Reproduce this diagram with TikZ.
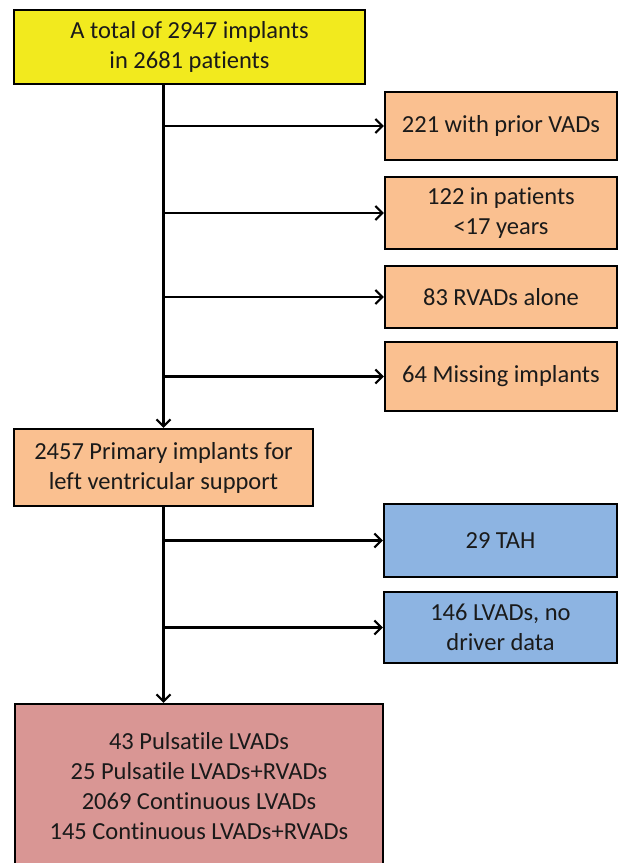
\documentclass[tikz,border=0pt]{standalone}
\usepackage{fontspec}
\setmainfont{Carlito}[Ligatures={NoCommon}]
\usetikzlibrary{arrows.meta}
\definecolor{cyellow}{HTML}{F2EA1E}
\definecolor{corange}{HTML}{FAC090}
\definecolor{cblue}{HTML}{8DB4E2}
\definecolor{cpink}{HTML}{D99694}
\definecolor{ctext}{HTML}{1A1A1A}
\tikzset{
  box/.style={draw=black, line width=2.2pt, inner sep=0pt, align=center,
    text=ctext, font=\fontsize{24.5}{30}\selectfont},
  ybox/.style={box, fill=cyellow},
  obox/.style={box, fill=corange},
  bbox/.style={box, fill=cblue},
  pbox/.style={box, fill=cpink},
  arr/.style={line width=2.2pt, -{Straight Barb[length=7pt,width=14pt,line width=2.2pt]}},
}
\begin{document}
\begin{tikzpicture}[x=1pt,y=-1pt]
\useasboundingbox (0,0) rectangle (618,863);
\node[ybox, minimum width=351pt, minimum height=74pt] (top) at (189.5,47) {A total of 2947 implants\\in 2681 patients};
\node[obox, minimum width=232pt, minimum height=68pt] (r1) at (501,126) {221 with prior VADs};
\node[obox, minimum width=232pt, minimum height=72pt] (r2) at (501,213) {122 in patients\\<17 years};
\node[obox, minimum width=232pt, minimum height=62pt] (r3) at (501,297) {83 RVADs alone};
\node[obox, minimum width=232pt, minimum height=69pt] (r4) at (501,376.5) {64 Missing implants};
\node[obox, minimum width=299pt, minimum height=77pt] (prim) at (163.5,467.5) {2457 Primary implants for\\left ventricular support};
\node[bbox, minimum width=233pt, minimum height=73pt] (b1) at (500.5,540.5) {29 TAH};
\node[bbox, minimum width=233pt, minimum height=71pt] (b2) at (500.5,627.5) {146 LVADs, no\\driver data};
\node[pbox, minimum width=368pt, minimum height=164pt] (bot) at (199,786) {43 Pulsatile LVADs\\25 Pulsatile LVADs+RVADs\\2069 Continuous LVADs\\145 Continuous LVADs+RVADs};
\draw[arr] (top.south -| prim.north) -- (prim.north);
\draw[arr] (prim.north |- r1.west) -- (r1.west);
\draw[arr] (prim.north |- r2.west) -- (r2.west);
\draw[arr] (prim.north |- r3.west) -- (r3.west);
\draw[arr] (prim.north |- r4.west) -- (r4.west);
\draw[arr] (prim.south) -- (prim.south |- bot.north);
\draw[arr] (prim.south |- b1.west) -- (b1.west);
\draw[arr] (prim.south |- b2.west) -- (b2.west);
\end{tikzpicture}
\end{document}
